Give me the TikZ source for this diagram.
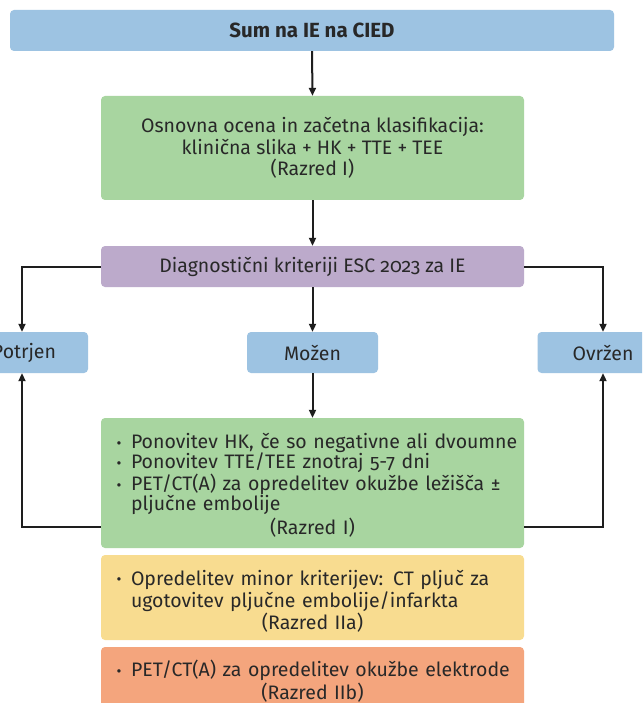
\documentclass[tikz,border=0pt]{standalone}
\usepackage{fontspec}
\setmainfont{Fira Sans}[Numbers=OldStyle]
\usetikzlibrary{arrows.meta,calc}

\definecolor{ink}{RGB}{40,40,40}
\definecolor{lineclr}{RGB}{30,30,30}
\definecolor{cblue}{RGB}{157,195,226}
\definecolor{cgreen}{RGB}{168,213,160}
\definecolor{cpurple}{RGB}{188,170,203}
\definecolor{cyellow}{RGB}{248,220,144}
\definecolor{corange}{RGB}{244,165,125}

% bullet item with hanging indent
\newcommand\bitem[1]{\par\hangindent=28.5pt\hangafter=1\noindent
  \makebox[28.5pt][l]{\hspace{14pt}\raisebox{0.5pt}{\fontsize{15}{15}\selectfont\textbullet}}#1}

\tikzset{
  box/.style={rounded corners=4pt, inner sep=0pt, text=ink,
    font=\fontsize{19.5}{21.5}\selectfont, align=center},
  listbox/.style={box, text width=420pt, align=left},
  arr/.style={draw=lineclr, line width=2pt,
    -{Triangle[width=7pt,length=8pt]}},
}

\begin{document}
\begin{tikzpicture}[x=1pt,y=-1pt]
\clip (0,0) rectangle (642,703);
\fill[white] (0,0) rectangle (642,703);

% boxes
\node[box, fill=cblue, minimum width=604pt, minimum height=41pt,
  font=\fontsize{20.5}{22}\selectfont\bfseries] (sum) at (312,30.5) {Sum na IE na CIED};

\node[box, fill=cgreen, minimum width=423pt, minimum height=104pt] (base) at (312.5,148)
  {Osnovna ocena in začetna klasifikacija:\\klinična slika + HK + TTE + TEE\\(Razred I)};

\node[box, fill=cpurple, minimum width=423pt, minimum height=41pt] (crit) at (312.5,266.5)
  {Diagnostični kriteriji ESC 2023 za IE};

\node[box, fill=cblue, minimum width=132pt, minimum height=41pt] (potrjen) at (22,352.5)
  {\hspace*{4pt}Potrjen};
\node[box, fill=cblue, minimum width=131pt, minimum height=41pt] (mozen) at (312.5,352.5) {Možen};
\node[box, fill=cblue, minimum width=131pt, minimum height=41pt] (ovrzen) at (603,352.5) {Ovržen};

\node[listbox, fill=cgreen, minimum width=423pt, minimum height=130pt] (rep) at (312.5,483)
  {\baselineskip=20pt
   \bitem{Ponovitev HK, če so negativne ali dvoumne}
   \bitem{Ponovitev TTE/TEE znotraj 5-7 dni}
   \bitem{PET/CT(A) za opredelitev okužbe ležišča ±\newline pljučne embolije}
   \par\vspace{2pt}\centering (Razred I)\par};

\node[listbox, fill=cyellow, minimum width=423pt, minimum height=85pt] (minor) at (312.5,597.5)
  {\baselineskip=22pt
   \bitem{Opredelitev minor kriterijev: CT pljuč za\newline ugotovitev pljučne embolije/infarkta}
   \par\centering (Razred IIa)\par};

\node[listbox, fill=corange, minimum width=423pt, minimum height=62pt] (lead) at (312.5,678)
  {\baselineskip=23pt
   \bitem{PET/CT(A) za opredelitev okužbe elektrode}
   \par\centering (Razred IIb)\par};

% connectors
\draw[arr] (sum.south) -- (base.north);
\draw[arr] (base.south) -- (crit.north);
\draw[arr] (crit.west) -| (potrjen.north);
\draw[arr] (crit.east) -| (ovrzen.north);
\draw[arr] (crit.south) -- (mozen.north);
\draw[arr] (mozen.south) -- (rep.north);

\coordinate (repL) at ([yshift=21pt]rep.south west);
\coordinate (repR) at ([yshift=21pt]rep.south east);
\draw[arr] (repL) -| (potrjen.south);
\draw[arr] (repR) -| (ovrzen.south);
\end{tikzpicture}
\end{document}
